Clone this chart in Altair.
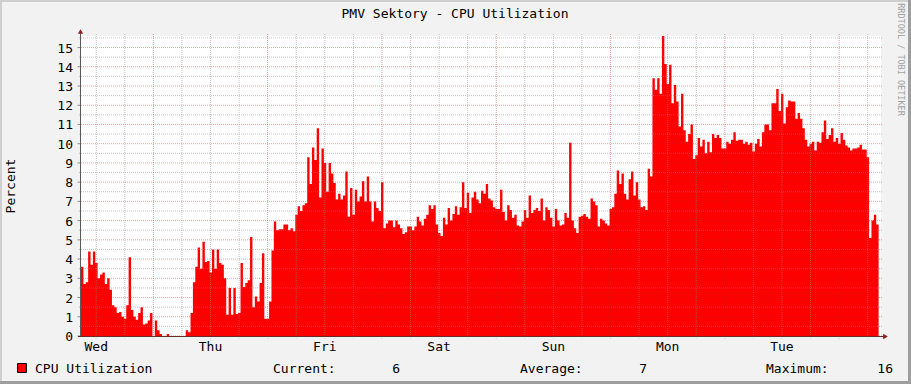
import altair as alt
import pandas as pd

# ---------------- data ----------------
cpu_values = [
    3.6, 2.7, 2.8, 4.4, 3.7, 4.4, 3.8, 3.0, 3.2, 3.3,
    2.7, 3.0, 2.4, 1.6, 1.5, 1.2, 1.25, 1.0, 0.9, 1.6,
    4.1, 1.35, 1.0, 0.85, 1.2, 1.5, 0.6, 0.65, 0.8, 1.2,
    0.0, 0.8, 0.3, 0.1, 0.0, 0.0, 0.1, 0.0, 0.0, 0.0,
    0.0, 0.0, 0.0, 0.0, 0.3, 0.2, 1.2, 2.8, 3.6, 4.6,
    3.5, 4.9, 3.85, 3.9, 3.3, 4.5, 3.5, 4.5, 3.8, 3.7,
    3.0, 1.1, 2.5, 1.1, 2.5, 1.15, 1.2, 3.8, 2.55, 2.75,
    2.9, 5.15, 1.5, 2.05, 1.8, 2.75, 4.3, 0.9, 0.9, 1.8,
    4.45, 5.95, 5.5, 5.55, 5.55, 5.8, 5.8, 5.5, 5.6, 5.45,
    6.3, 6.75, 6.5, 6.8, 6.9, 9.3, 7.9, 9.8, 9.15, 10.8,
    7.2, 9.75, 9.0, 7.5, 9.0, 8.45, 7.95, 7.1, 7.4, 7.1,
    7.3, 8.55, 6.2, 7.7, 6.3, 7.6, 7.0, 7.25, 8.05, 7.0,
    8.3, 7.0, 5.95, 7.0, 6.65, 6.5, 8.0, 5.6, 5.85, 6.0,
    6.0, 5.65, 6.0, 5.8, 5.6, 5.3, 5.4, 5.7, 5.7, 5.5,
    5.7, 6.2, 5.95, 5.75, 6.1, 6.3, 6.8, 6.6, 6.8, 5.8,
    5.35, 5.2, 6.15, 5.8, 6.65, 6.0, 6.35, 6.75, 6.3, 6.7,
    8.0, 6.65, 7.45, 6.4, 7.2, 7.5, 7.1, 6.9, 7.55, 7.4,
    7.9, 7.15, 7.05, 6.7, 6.6, 6.6, 7.6, 6.45, 6.0, 6.8,
    6.55, 6.15, 6.3, 5.75, 5.7, 5.95, 6.55, 6.15, 7.3, 6.4,
    6.55, 6.65, 6.5, 7.15, 6.0, 6.7, 6.55, 6.15, 5.7, 6.6,
    6.0, 5.75, 5.8, 6.4, 6.15, 10.05, 6.0, 5.6, 5.35, 6.2,
    6.25, 6.35, 6.2, 6.1, 7.15, 7.0, 6.8, 5.7, 6.1, 6.0,
    5.85, 5.75, 6.6, 6.7, 7.4, 8.6, 7.9, 8.45, 7.4, 7.1,
    8.15, 8.55, 7.3, 8.0, 7.1, 6.7, 6.75, 6.55, 8.7, 8.3,
    13.4, 12.8, 13.4, 12.6, 15.6, 14.15, 13.1, 14.1, 12.1, 13.05,
    12.2, 10.9, 12.6, 10.7, 10.1, 10.5, 11.0, 9.2, 9.4, 10.3,
    9.85, 10.2, 9.5, 10.1, 9.55, 10.5, 10.3, 10.45, 10.3, 9.75,
    9.75, 10.1, 10.0, 10.2, 10.6, 10.15, 10.2, 10.2, 10.0, 10.1,
    9.95, 10.05, 9.6, 10.0, 10.25, 9.85, 10.6, 11.0, 11.0, 10.7,
    12.1, 12.1, 12.85, 11.7, 12.6, 11.05, 11.9, 12.25, 12.2, 12.2,
    11.3, 11.6, 11.3, 10.8, 10.2, 9.85, 10.0, 10.1, 9.65, 10.1,
    10.05, 10.6, 11.2, 10.25, 10.45, 10.8, 10.1, 10.3, 10.0, 10.55,
    10.2, 9.9, 9.8, 9.65, 9.75, 9.75, 9.8, 9.95, 9.7, 9.7,
    9.3, 5.1, 6.0, 6.3, 5.8, 6.0,
]
first_sample_hour = 8.8          # hours after Wed 00:00
sample_step_hours = 0.5
window_hours = 168

day_labels = ["Wed", "Thu", "Fri", "Sat", "Sun", "Mon", "Tue"]
day_label_hours = [12, 36, 60, 84, 108, 132, 156]
x_major_hours = [24, 48, 72, 96, 120, 144, 168]
x_minor_hours = [12, 18, 30, 36, 42, 54, 60, 66, 78, 84, 90, 102, 108, 114,
                 126, 132, 138, 150, 156, 162, 174]
y_major_values = list(range(0, 16))
y_minor_values = [0.5, 1.5, 2.5, 3.5, 4.5, 5.5, 6.5, 7.5, 8.5, 9.5,
                  10.5, 11.5, 12.5, 13.5, 14.5, 15.5]

title_text = "PMV Sektory - CPU Utilization"
y_title = "Percent"
watermark = "RRDTOOL / TOBI OETIKER"
legend_name = "CPU Utilization"
legend_labels = ["Current:", "Average:", "Maximum:"]
legend_values = ["6", "7", "16"]

# ---------------- styling / layout ----------------
FONT = "DejaVu Sans Mono"
FS = 13
W, H = 800, 300
RED = "#ff0000"
GRID_MINOR = "#8c8c8c"
GRID_MAJOR = "#b02828"

X = alt.Scale(domain=[first_sample_hour, first_sample_hour + window_hours], nice=False, zero=False)
Y = alt.Scale(domain=[0, max(cpu_values)], nice=False, zero=False)

df = pd.DataFrame({
    "t": [first_sample_hour + sample_step_hours * i for i in range(len(cpu_values))],
    "v": cpu_values,
})
one = pd.DataFrame({"a": [0]})

layers = []

# area
layers.append(
    alt.Chart(df).mark_area(color=RED, interpolate="step-after").encode(
        x=alt.X("t:Q", scale=X, axis=None),
        y=alt.Y("v:Q", scale=Y, axis=None),
    )
)

# horizontal grid
layers.append(
    alt.Chart(pd.DataFrame({"y": y_minor_values})).mark_rule(
        color=GRID_MINOR, strokeOpacity=0.5, strokeDash=[1, 1], strokeWidth=1
    ).encode(y=alt.Y("y:Q", scale=Y, axis=None), x=alt.value(-2), x2=alt.value(W + 2))
)
layers.append(
    alt.Chart(pd.DataFrame({"y": y_major_values})).mark_rule(
        color=GRID_MAJOR, strokeOpacity=0.4, strokeDash=[1, 1], strokeWidth=1
    ).encode(y=alt.Y("y:Q", scale=Y, axis=None), x=alt.value(0), x2=alt.value(W + 2))
)
layers.append(
    alt.Chart(pd.DataFrame({"y": y_major_values})).mark_rule(
        color="#8c8c8c", strokeWidth=1
    ).encode(y=alt.Y("y:Q", scale=Y, axis=None), x=alt.value(-3.5), x2=alt.value(0))
)

# vertical grid
layers.append(
    alt.Chart(pd.DataFrame({"t": x_minor_hours})).mark_rule(
        color=GRID_MINOR, strokeOpacity=0.5, strokeDash=[1, 1], strokeWidth=1
    ).encode(x=alt.X("t:Q", scale=X, axis=None), y=alt.value(-2), y2=alt.value(H + 2.5))
)
layers.append(
    alt.Chart(pd.DataFrame({"t": x_major_hours})).mark_rule(
        color=GRID_MAJOR, strokeOpacity=0.45, strokeDash=[1, 1], strokeWidth=1
    ).encode(x=alt.X("t:Q", scale=X, axis=None), y=alt.value(-2), y2=alt.value(H + 2.5))
)

# axis lines
layers.append(
    alt.Chart(one).mark_rule(color="#5a5a5a", strokeWidth=1).encode(
        x=alt.value(-0.5), y=alt.value(-3), y2=alt.value(H + 1)
    )
)
layers.append(
    alt.Chart(one).mark_rule(color="#6b2a2a", strokeWidth=1).encode(
        x=alt.value(-3), x2=alt.value(W + 4), y=alt.value(H + 0.5)
    )
)
# arrows
layers.append(
    alt.Chart(one).mark_point(shape="triangle-up", filled=True, size=28, color="#8e1d1d", opacity=1).encode(
        x=alt.value(-0.5), y=alt.value(-4.5)
    )
)
layers.append(
    alt.Chart(one).mark_point(shape="triangle-right", filled=True, size=28, color="#8e1d1d", opacity=1).encode(
        x=alt.value(W + 4.5), y=alt.value(H + 0.5)
    )
)

# y tick labels
layers.append(
    alt.Chart(pd.DataFrame({"v": y_major_values, "label": [str(v) for v in y_major_values]})).mark_text(
        align="right", baseline="alphabetic", dy=5, font=FONT, fontSize=FS, color="black"
    ).encode(y=alt.Y("v:Q", scale=Y, axis=None), x=alt.value(-8), text="label:N")
)
# x day labels
layers.append(
    alt.Chart(pd.DataFrame({"t": day_label_hours, "label": day_labels})).mark_text(
        align="center", baseline="alphabetic", font=FONT, fontSize=FS, color="black"
    ).encode(x=alt.X("t:Q", scale=X, axis=None), y=alt.value(314.7), text="label:N")
)

# title, axis title, watermark
layers.append(
    alt.Chart(one).mark_text(align="center", baseline="alphabetic", font=FONT, fontSize=FS, color="black").encode(
        x=alt.value(374), y=alt.value(-18.3), text=alt.value(title_text)
    )
)
layers.append(
    alt.Chart(one).mark_text(align="center", baseline="alphabetic", angle=270, font=FONT, fontSize=FS, color="black").encode(
        x=alt.value(-66), y=alt.value(150), text=alt.value(y_title)
    )
)
layers.append(
    alt.Chart(one).mark_text(align="center", baseline="alphabetic", angle=90, font=FONT, fontSize=8.5, color="#a0a0a0").encode(
        x=alt.value(817), y=alt.value(23.5), text=alt.value(watermark)
    )
)

# legend
layers.append(
    alt.Chart(one).mark_rect(fill=RED, stroke="black", strokeWidth=1).encode(
        x=alt.value(-63.5), x2=alt.value(-54.5), y=alt.value(327.5), y2=alt.value(336.5)
    )
)
layers.append(
    alt.Chart(one).mark_text(align="left", baseline="alphabetic", font=FONT, fontSize=FS, color="black").encode(
        x=alt.value(-46), y=alt.value(337), text=alt.value(legend_name)
    )
)
label_x = [192, 439, 685]
value_x = [319, 566, 812]
for lab, lx in zip(legend_labels, label_x):
    layers.append(
        alt.Chart(one).mark_text(align="left", baseline="alphabetic", font=FONT, fontSize=FS, color="black").encode(
            x=alt.value(lx), y=alt.value(337), text=alt.value(lab)
        )
    )
for val, vx in zip(legend_values, value_x):
    layers.append(
        alt.Chart(one).mark_text(align="right", baseline="alphabetic", font=FONT, fontSize=FS, color="black").encode(
            x=alt.value(vx), y=alt.value(337), text=alt.value(val)
        )
    )

# frame (3D border)
for (x1, x2, y1, y2, c) in [
    (-81, 830, -36, -34, "#cfcfcf"),
    (-81, -79, -36, 348, "#cfcfcf"),
    (-81, 830, 345, 348, "#9e9e9e"),
    (827, 830, -36, 348, "#9e9e9e"),
]:
    layers.append(
        alt.Chart(one).mark_rect(color=c).encode(
            x=alt.value(x1), x2=alt.value(x2), y=alt.value(y1), y2=alt.value(y2)
        )
    )

chart = alt.layer(*layers).properties(
    width=W,
    height=H,
    padding={"left": 81, "top": 36, "right": 30, "bottom": 48},
    autosize=alt.AutoSizeParams(type="none"),
    background="#f2f2f2",
).configure_view(fill="white", stroke=None)

chart.save("out.html", embed_options={"renderer": "svg", "actions": False})
